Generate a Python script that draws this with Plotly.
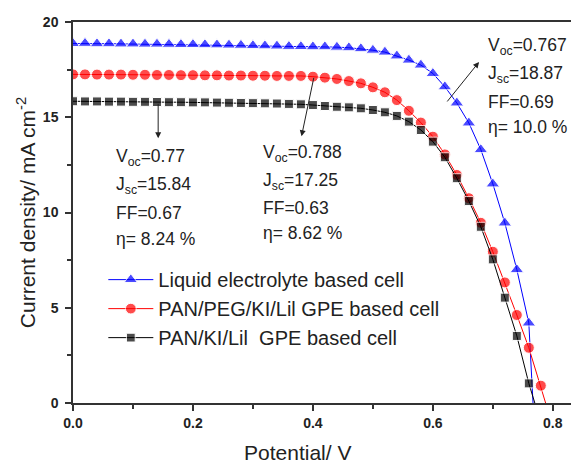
import plotly.graph_objects as go

# ---------------- data ----------------
V = [round(0.02 * i, 2) for i in range(40)]  # 0.00 .. 0.78

liquid_v = V[:39] + [0.767]
liquid_j = [18.87, 18.88, 18.86, 18.86, 18.85, 18.85, 18.84, 18.84, 18.83, 18.82,
            18.82, 18.81, 18.80, 18.79, 18.78, 18.76, 18.75, 18.74, 18.72, 18.71,
            18.70, 18.70, 18.68, 18.65, 18.60, 18.52, 18.42, 18.22, 18.00, 17.74,
            17.30, 16.60, 15.75, 14.70, 13.30, 11.50, 9.45, 7.00, 4.20, 1.25, 0.0]
liquid_j = liquid_j[:39] + [0.0]

peg_v = V[:40] + [0.788]
peg_j = [17.25, 17.25, 17.24, 17.24, 17.24, 17.23, 17.23, 17.22, 17.22, 17.21,
         17.21, 17.20, 17.20, 17.19, 17.19, 17.18, 17.18, 17.17, 17.17, 17.17,
         17.13, 17.08, 17.01, 16.90, 16.78, 16.57, 16.31, 15.90, 15.34, 14.72,
         13.98, 13.05, 11.97, 10.75, 9.46, 7.94, 6.33, 4.62, 2.90, 0.91, 0.0]

pan_v = V[:39] + [0.77]
pan_j = [15.84, 15.83, 15.83, 15.82, 15.82, 15.81, 15.81, 15.80, 15.79, 15.79,
         15.78, 15.78, 15.77, 15.76, 15.75, 15.74, 15.73, 15.72, 15.70, 15.68,
         15.64, 15.59, 15.55, 15.52, 15.47, 15.38, 15.26, 15.07, 14.77, 14.33,
         13.72, 12.90, 11.80, 10.60, 9.25, 7.54, 5.53, 3.52, 1.03, 0.0]

names = ["Liquid electrolyte based cell",
         "PAN/PEG/KI/Lil GPE based cell",
         "PAN/KI/Lil  GPE based cell"]

x_ticks = [0.0, 0.2, 0.4, 0.6, 0.8]
x_ticklabels = ["0.0", "0.2", "0.4", "0.6", "0.8"]
y_ticks = [0, 5, 10, 15, 20]

x_title = "Potential/ V"
y_title = "Current density/ mA cm<sup>-2</sup>"

block_black = ["V<sub>oc</sub>=0.77", "J<sub>sc</sub>=15.84", "FF=0.67", "\u03b7= 8.24 %"]
block_red = ["V<sub>oc</sub>=0.788", "J<sub>sc</sub>=17.25", "FF=0.63", "\u03b7= 8.62 %"]
block_blue = ["V<sub>oc</sub>=0.767", "J<sub>sc</sub>=18.87", "FF=0.69", "\u03b7= 10.0 %"]

FONT = "Arial, Liberation Sans, sans-serif"

fig = go.Figure()

def sizes(n, s):
    return [s] * (n - 1) + [0]

fig.add_trace(go.Scatter(x=liquid_v, y=liquid_j, name=names[0], mode="lines+markers",
                         line=dict(color="#0000ff", width=1),
                         marker=dict(symbol="triangle-up", size=sizes(len(liquid_v), 12), color="#0000ff")))
fig.add_trace(go.Scatter(x=peg_v, y=peg_j, name=names[1], mode="lines+markers",
                         line=dict(color="#ff0000", width=1),
                         marker=dict(symbol="circle", size=sizes(len(peg_v), 11), color="#ff0000")))
fig.add_trace(go.Scatter(x=pan_v, y=pan_j, name=names[2], mode="lines+markers",
                         line=dict(color="#000000", width=1),
                         marker=dict(symbol="square", size=sizes(len(pan_v), 9), color="#000000")))

annotations = []

def add_block(lines, x0, ys):
    for t, yy in zip(lines, ys):
        annotations.append(dict(x=x0, y=yy, xref="x", yref="y", text=t, showarrow=False,
                                xanchor="left", yanchor="middle",
                                font=dict(family=FONT, size=17.5, color="#222222")))

add_block(block_black, 0.068, [12.9, 11.4, 9.95, 8.6])
add_block(block_red, 0.313, [13.1, 11.65, 10.25, 8.9])
add_block(block_blue, 0.688, [18.7, 17.25, 15.8, 14.5])

def add_arrow(tail, head):
    annotations.append(dict(x=head[0], y=head[1], ax=tail[0], ay=tail[1],
                            xref="x", yref="y", axref="x", ayref="y",
                            text="", showarrow=True, arrowhead=2, arrowsize=1.2,
                            arrowwidth=1, arrowcolor="#222222"))

add_arrow((0.142, 15.78), (0.142, 13.9))
add_arrow((0.402, 17.15), (0.381, 14.0))
add_arrow((0.622, 15.75), (0.677, 17.9))

# x-axis title (positioned as in the reference, left of plot centre)
annotations.append(dict(x=0.375, y=-0.094, xref="x", yref="paper", text=x_title,
                        showarrow=False, xanchor="center", yanchor="top",
                        font=dict(family=FONT, size=21, color="#222222")))

fig.update_layout(
    width=579, height=460,
    margin=dict(l=65, r=0, t=14, b=65, autoexpand=False),
    paper_bgcolor="white", plot_bgcolor="white",
    font=dict(family=FONT, color="#222222"),
    showlegend=True,
    legend=dict(x=0.059, y=0.375, xanchor="left", yanchor="top",
                bgcolor="rgba(0,0,0,0)", borderwidth=0,
                font=dict(family=FONT, size=20, color="#222222"),
                itemwidth=45, tracegroupgap=0),
    annotations=annotations,
)

fig.update_xaxes(range=[0, 0.857], tickmode="array", tickvals=x_ticks, ticktext=x_ticklabels,
                 ticks="outside", ticklen=6, tickwidth=1.5, tickcolor="#333333",
                 minor=dict(dtick=0.1, ticks="outside", ticklen=4, tickwidth=1.5, tickcolor="#333333", showgrid=False),
                 showline=True, linewidth=1.5, linecolor="#333333", mirror=True,
                 showgrid=False, zeroline=False, automargin=False,
                 tickfont=dict(family=FONT, size=14, color="#222222", weight="bold"))
fig.update_yaxes(range=[0, 20], tickmode="array", tickvals=y_ticks,
                 ticks="outside", ticklen=6, tickwidth=1.5, tickcolor="#333333",
                 minor=dict(dtick=2.5, ticks="outside", ticklen=4, tickwidth=1.5, tickcolor="#333333", showgrid=False),
                 showline=True, linewidth=1.5, linecolor="#333333", mirror=True,
                 showgrid=False, zeroline=False, automargin=False,
                 ticklabelstandoff=4,
                 tickfont=dict(family=FONT, size=14, color="#222222", weight="bold"),
                 title=dict(text=y_title, font=dict(family=FONT, size=21, color="#222222"), standoff=2))

fig.write_html("out.html")
